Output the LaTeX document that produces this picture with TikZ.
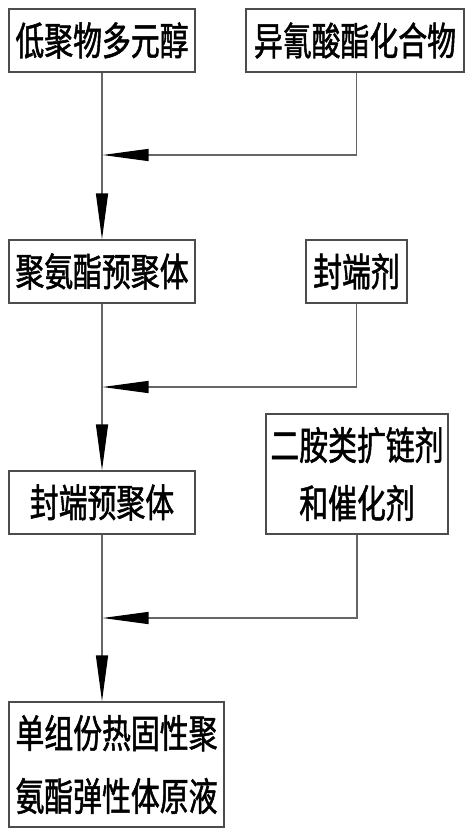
\documentclass[tikz,border=0pt]{standalone}
\usepackage{fontspec}
\usetikzlibrary{arrows.meta}
\newfontfamily\cjk[FakeStretch=0.74,FakeBold=1.3]{Noto Sans CJK SC}
\begin{document}
\begin{tikzpicture}[x=1pt,y=-1pt,
  box/.style={draw=black!70, line width=1.3pt, inner sep=0pt, align=center,
    font={\cjk\fontsize{39}{60}\selectfont}},
  conn/.style={draw=black!60, line width=1.3pt},
  arr/.style={conn, -{Triangle[length=46pt,width=12pt,black]}}]
\useasboundingbox (0,0) rectangle (474,837);
\node[box, minimum width=186pt, minimum height=63pt] (b1) at (102,40.5) {低聚物多元醇};
\node[box, minimum width=218pt, minimum height=63pt] (b2) at (355,40.5) {异氰酸酯化合物};
\node[box, minimum width=186pt, minimum height=63pt] (b3) at (102,271.5) {聚氨酯预聚体};
\node[box, minimum width=101pt, minimum height=63pt] (b4) at (356.5,271.5) {封端剂};
\node[box, minimum width=182pt, minimum height=120pt, font={\cjk\fontsize{39}{58}\selectfont}] (b6) at (357,474) {二胺类扩链剂\\和催化剂};
\node[box, minimum width=186pt, minimum height=63pt] (b5) at (102,502.5) {封端预聚体};
\node[box, minimum width=215pt, minimum height=125pt, font={\cjk\fontsize{39}{63}\selectfont}] (b7) at (116.5,764.5) {单组份热固性聚\\氨酯弹性体原液};
\coordinate (j1) at (102.5,155);
\coordinate (j2) at (102.5,387);
\coordinate (j3) at (102.5,618);
\path[arr] (b1.south) -- (b3.north);
\path[arr] (b3.south) -- (b5.north);
\path[arr] (b5.south) -- (b5.south |- b7.north);
\path[arr] (b2.south -| b4.south) |- (j1);
\path[arr] (b4.south) |- (j2);
\path[arr] (b6.south) |- (j3);
\end{tikzpicture}
\end{document}
